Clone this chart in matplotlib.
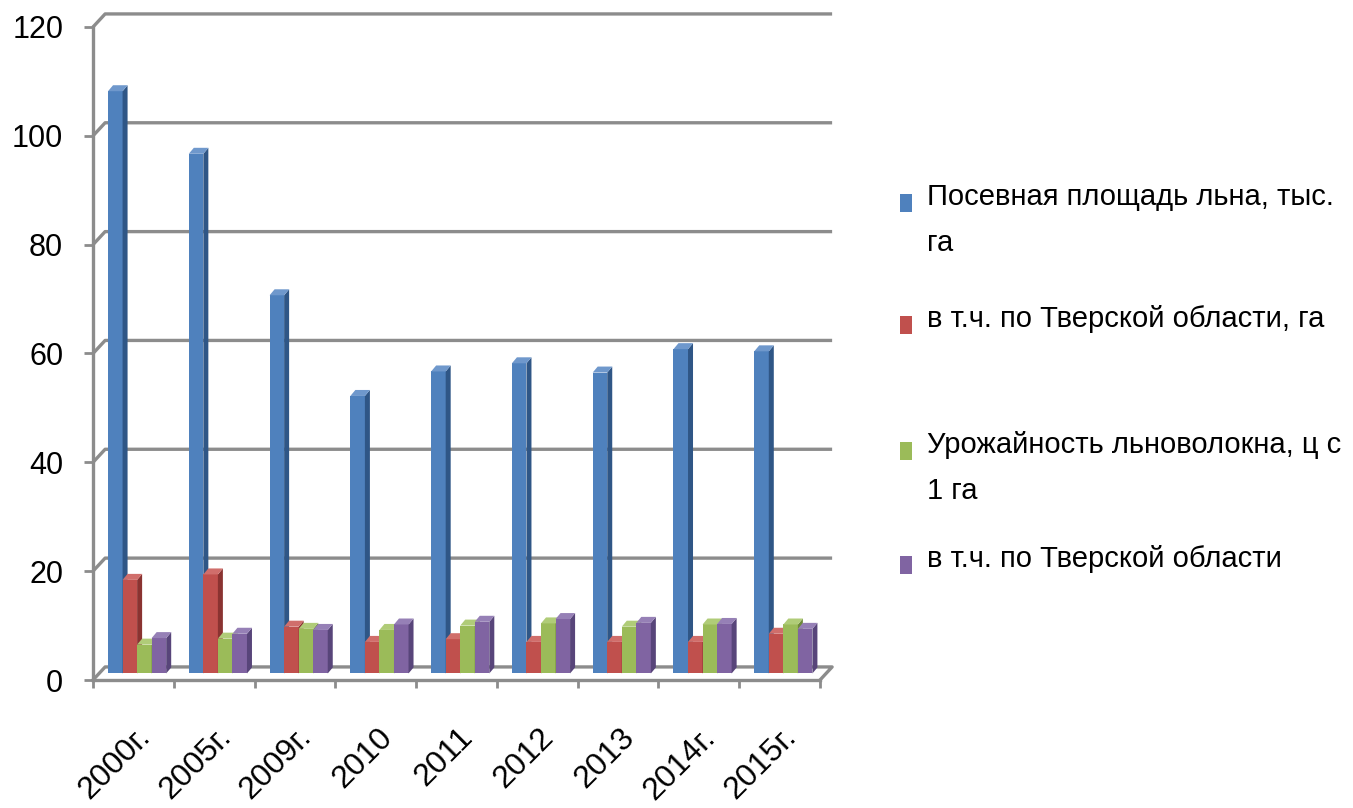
import matplotlib
matplotlib.use("Agg")
import matplotlib.pyplot as plt
from matplotlib.patches import Polygon, Rectangle
import numpy as np

plt.rcParams['font.family'] = ['Liberation Sans', 'DejaVu Sans']

# data
years = ['2000г.', '2005г.', '2009г.', '2010', '2011', '2012', '2013', '2014г.', '2015г.']
area_rf = [107.0, 95.5, 69.5, 51.0, 55.5, 57.0, 55.3, 59.6, 59.2]
area_tver = [17.2, 18.2, 8.6, 5.8, 6.3, 5.8, 5.8, 5.8, 7.3]
yield_rf = [5.3, 6.4, 8.2, 8.0, 8.8, 9.2, 8.6, 9.0, 9.0]
yield_tver = [6.5, 7.3, 8.0, 9.0, 9.5, 10.0, 9.3, 9.1, 8.2]
labels = ['Посевная площадь льна, тыс.\nга',
          'в т.ч. по Тверской области, га',
          'Урожайность льноволокна, ц с\n1 га',
          'в т.ч. по Тверской области']
series = [area_rf, area_tver, yield_rf, yield_tver]

front = ['#4f81bd', '#c0504d', '#9bbb59', '#8064a2']
side = ['#2f5686', '#8a3331', '#6e8a3a', '#58457a']
top = ['#6f98cc', '#d06e6b', '#b0cc78', '#9680b6']

W, H = 1353, 808
fig = plt.figure(figsize=(W / 100, H / 100), dpi=100)
ax = fig.add_axes([93 / W, 1 - 680 / H, 727 / W, 653 / H])
ax.set_xlim(0, 9)
ax.set_ylim(0, 120)

grid_c = '#8c8c8c'
dx, dy = 0.15, 2.4        # depth of the back wall
bx, by = 0.062, 1.1       # depth of one bar
base = 1.2                # bars stand in the middle of the floor

# back wall + side wall gridlines
for g in range(20, 121, 20):
    ax.plot([0, dx, 9 + dx], [g, g + dy, g + dy], color=grid_c, lw=2.4,
            clip_on=False, zorder=1, solid_capstyle='butt')
# floor
ax.plot([0, dx, 9 + dx, 9], [0, dy, dy, 0], color=grid_c, lw=2.4,
        clip_on=False, zorder=1)

bw = 0.18
x0 = 0.186
z = 3
for i in range(len(years)):
    for k, vals in enumerate(series):
        v = vals[i]
        xl = i + x0 + k * bw
        xr = xl + bw
        b = base
        t = base + v
        # front face
        ax.add_patch(Polygon([(xl, b), (xr, b), (xr, t), (xl, t)], closed=True,
                             facecolor=front[k], edgecolor='none', zorder=z))
        # side face
        ax.add_patch(Polygon([(xr, b), (xr + bx, b + by), (xr + bx, t + by), (xr, t)],
                             closed=True, facecolor=side[k], edgecolor='none', zorder=z))
        # top face
        ax.add_patch(Polygon([(xl, t), (xr, t), (xr + bx, t + by), (xl + bx, t + by)],
                             closed=True, facecolor=top[k], edgecolor='none', zorder=z))
        z += 1

for s in ['top', 'right']:
    ax.spines[s].set_visible(False)
for s in ['left', 'bottom']:
    ax.spines[s].set_color(grid_c)
    ax.spines[s].set_linewidth(2.4)
    ax.spines[s].set_zorder(2)

ax.set_yticks(range(0, 121, 20))
ax.tick_params(axis='y', length=6.5, width=2, color=grid_c, labelsize=22, pad=15)
ax.set_xticks(np.arange(0, 10))
ax.set_xticklabels([])
ax.tick_params(axis='x', which='major', length=6, width=2, color=grid_c)
ax.set_xticks(np.arange(len(years)) + 0.65, minor=True)
ax.set_xticklabels(years, minor=True, rotation=45, ha='right', va='center',
                   rotation_mode='anchor', fontsize=23)
ax.tick_params(axis='x', which='minor', length=0, pad=38)
ax.patch.set_visible(False)

# legend drawn by hand
leg_y = [205, 327, 453, 567]
for k, lab in enumerate(labels):
    yb = leg_y[k]
    fig.patches.append(Rectangle((900 / W, 1 - (yb + 7) / H), 12 / W, 18 / H,
                                 transform=fig.transFigure, facecolor=front[k],
                                 edgecolor='none'))
    for j, line in enumerate(lab.split('\n')):
        fig.text(927 / W, 1 - (yb + 46 * j) / H, line, fontsize=21,
                 va='baseline', ha='left')

fig.savefig('out.png', dpi=100)
